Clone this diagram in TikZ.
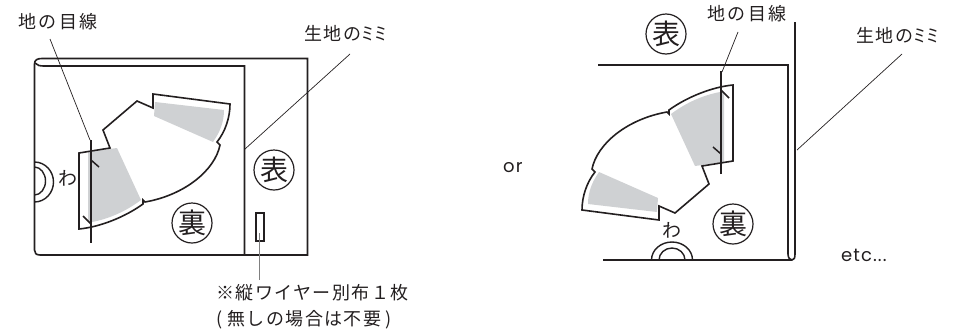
\documentclass[tikz,border=0pt]{standalone}
\usepackage{fontspec}
\setmainfont{Noto Sans CJK JP}
\newfontfamily\latinf[LetterSpace=6]{Poppins}
\newfontfamily\jpwide[LetterSpace=8]{Noto Sans CJK JP}
\newfontfamily\jpwider[LetterSpace=14]{Noto Sans CJK JP}
\definecolor{greyfill}{RGB}{207,209,211}
\definecolor{ink}{RGB}{35,31,32}
\newcommand{\narrowmi}{\scalebox{0.72}[1]{ミ}}
\tikzset{
  edgeline/.style={draw=ink,line width=1.6pt,line join=miter},
  cutline/.style={draw=ink,line width=1.6pt,line join=miter},
  thinarc/.style={draw=ink,line width=1.4pt},
  leader/.style={draw=ink,line width=0.7pt},
  grainline/.style={draw=ink,line width=1.5pt},
  greyleader/.style={draw=black!50,line width=1pt},
  sidecircle/.style={circle,draw=ink,line width=1.2pt,minimum size=40pt,inner sep=0pt,font=\fontsize{28}{28}\selectfont,text=ink},
  label/.style={inner sep=0pt,font=\jpwide\fontsize{18}{18}\selectfont,text=ink,anchor=west},
  widelabel/.style={inner sep=0pt,font=\jpwider\fontsize{18}{18}\selectfont,text=ink,anchor=west},
  latinlabel/.style={inner sep=0pt,font=\latinf\fontsize{18}{18}\selectfont,text=ink,anchor=west},
  wa/.style={inner sep=0pt,font=\fontsize{19}{19}\selectfont,text=ink},
  greyzone/.style={fill=greyfill,draw=none},
}
\newcommand{\patternpiece}{%
  \path[greyzone] (155,102) -- (224,110) .. controls (224,122) and (220,132) .. (213,142) -- (154,116) -- cycle;
  \path[greyzone] (88,152) -- (117,148) -- (141,200) .. controls (125,212) and (108,219) .. (92,222) -- (88,222) -- cycle;
  \draw[cutline] (79,153) -- (110,148) -- (103,130) -- (137,101) -- (153,108) -- (153,94) -- (230,104)
    .. controls (230,118) and (225,132) .. (217,142) -- (220,145)
    .. controls (215,170) and (185,195) .. (145,202) -- (143,200) -- (143,204)
    .. controls (125,217) and (100,227) .. (79,229) -- cycle;
  \draw[grainline] (91,160) -- (99,167);
  \draw[grainline] (83,216) -- (91,224);
  \draw[grainline] (91,140) -- (91,243);
}
\begin{document}
\begin{tikzpicture}[x=1pt,y=-1pt]
\useasboundingbox (0,0) rectangle (957,335);
% left sheet
\draw[edgeline] (35,63) .. controls (37,65.5) and (40,66) .. (44,66) -- (244.5,66) -- (244.5,255);
\draw[edgeline] (307.5,255) -- (40,255) .. controls (36,255) and (34.5,253) .. (34.5,250) -- (34.5,64) .. controls (34.5,60) and (37,58.5) .. (42,58.5) -- (307.5,58.5) -- cycle;
\draw[thinarc] (34.5,162) .. controls (45,162) and (53.5,171) .. (53.5,182) .. controls (53.5,193) and (45,202) .. (34.5,202);
\draw[thinarc] (34.5,167) .. controls (40.5,167) and (45.5,173.3) .. (45.5,181) .. controls (45.5,188.7) and (40.5,195) .. (34.5,195);
\patternpiece
\node[wa] (waL) at (68,178) {わ};
\node[sidecircle] (omoteL) at (274,170) {表};
\node[sidecircle] (uraL) at (192,223) {裏};
\node[draw=ink,line width=1.2pt,minimum width=8pt,minimum height=28pt,inner sep=0pt] (wire) at (260,227) {};
\coordinate (wireIn) at (259,233);
\node[widelabel] (grainL) at (18,22) {地の目線};
\coordinate (grainLin) at (50,39);
\coordinate (grainLend) at (90,140);
\draw[leader] (grainLin) -- (grainLend);
\node[label] (mimiL) at (304,33) {生地の\narrowmi\narrowmi};
\coordinate (mimiLin) at (350,54);
\coordinate (mimiLend) at (245,149);
\draw[leader] (mimiLin) -- (mimiLend);
\node[label] (note1) at (216,293) {※縦ワイヤー別布１枚};
\node[label] (note2) at (216,320) {(\kern5pt 無しの場合は不要\kern4pt)};
\coordinate (noteTop) at (259,280);
\draw[greyleader] (wireIn) -- (noteTop);
\node[latinlabel] (orL) at (503,168) {or};
% right sheet
\draw[edgeline] (598,65) -- (788,65) -- (788,254) .. controls (788,258) and (790,260) .. (792,260);
\draw[edgeline] (603,260) -- (792,260) .. controls (794,260) and (795,258) .. (795,254) -- (795,22);
\draw[thinarc] (651.5,260) .. controls (651.5,250) and (660.7,242) .. (672,242) .. controls (683.3,242) and (692.5,250) .. (692.5,260);
\draw[thinarc] (659,260) .. controls (659,253.4) and (664.8,248) .. (672,248) .. controls (679.2,248) and (685,253.4) .. (685,260);
\begin{scope}[shift={(812,314)},xscale=-1,yscale=-1]
\patternpiece
\end{scope}
\node[wa] (waR) at (672,230) {わ};
\node[sidecircle] (omoteR) at (666,34) {表};
\node[sidecircle] (uraR) at (733,224) {裏};
\node[widelabel] (grainR) at (707,14) {地の目線};
\coordinate (grainRin) at (738,32);
\coordinate (grainRend) at (722,72);
\draw[leader] (grainRin) -- (grainRend);
\node[label] (mimiR) at (856,35) {生地の\narrowmi\narrowmi};
\coordinate (mimiRin) at (902,54);
\coordinate (mimiRend) at (797,150);
\draw[leader] (mimiRin) -- (mimiRend);
\node[latinlabel] (etc) at (841,255) {etc...};
\end{tikzpicture}
\end{document}
